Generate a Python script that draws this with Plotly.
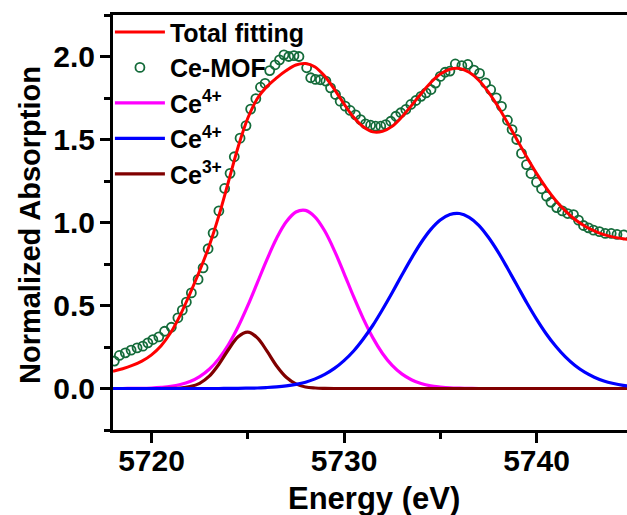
import plotly.graph_objects as go

# ---- data ----
energy_fit = [5718.0, 5718.5, 5719.0, 5719.5, 5720.0, 5720.5, 5721.0, 5721.5, 5722.0, 5722.5,
              5723.0, 5723.5, 5724.0, 5724.5, 5725.0, 5725.5, 5726.0, 5726.5, 5727.0, 5727.5,
              5728.0, 5728.5, 5729.0, 5729.5, 5730.0, 5730.5, 5731.0, 5731.5, 5732.0, 5732.5,
              5733.0, 5733.5, 5734.0, 5734.5, 5735.0, 5735.5, 5736.0, 5736.5, 5737.0, 5737.5,
              5738.0, 5738.5, 5739.0, 5739.5, 5740.0, 5740.5, 5741.0, 5741.5, 5742.0, 5742.5,
              5743.0, 5743.5, 5744.0, 5744.5, 5745.0]

total_fitting = [0.104, 0.119, 0.139, 0.165, 0.203, 0.258, 0.337, 0.444, 0.572, 0.709,
                 0.860, 1.041, 1.247, 1.455, 1.628, 1.747, 1.820, 1.871, 1.915, 1.949,
                 1.958, 1.937, 1.881, 1.802, 1.715, 1.634, 1.577, 1.546, 1.549, 1.579,
                 1.635, 1.704, 1.776, 1.842, 1.894, 1.923, 1.928, 1.905, 1.857, 1.786,
                 1.699, 1.599, 1.496, 1.393, 1.296, 1.209, 1.133, 1.070, 1.018, 0.979,
                 0.949, 0.927, 0.912, 0.902, 0.895]

ce4_a = [0.000, 0.000, 0.001, 0.001, 0.003, 0.007, 0.013, 0.024, 0.042, 0.072,
         0.116, 0.180, 0.265, 0.372, 0.499, 0.638, 0.778, 0.905, 1.004, 1.063,
         1.073, 1.033, 0.949, 0.831, 0.694, 0.553, 0.421, 0.305, 0.211, 0.139,
         0.088, 0.053, 0.030, 0.016, 0.009, 0.004, 0.002, 0.001, 0.000, 0.000,
         0.000, 0.000, 0.000, 0.000, 0.000, 0.000, 0.000, 0.000, 0.000, 0.000,
         0.000, 0.000, 0.000, 0.000, 0.000]

ce4_b = [0.000, 0.000, 0.000, 0.000, 0.000, 0.000, 0.000, 0.000, 0.000, 0.000,
         0.000, 0.000, 0.001, 0.001, 0.002, 0.003, 0.006, 0.010, 0.016, 0.025,
         0.038, 0.058, 0.085, 0.121, 0.168, 0.226, 0.298, 0.381, 0.476, 0.577,
         0.682, 0.784, 0.878, 0.957, 1.015, 1.048, 1.054, 1.031, 0.983, 0.911,
         0.823, 0.723, 0.619, 0.515, 0.418, 0.330, 0.254, 0.190, 0.138, 0.098,
         0.068, 0.045, 0.030, 0.019, 0.012]

ce3 = [0.000, 0.000, 0.000, 0.000, 0.000, 0.000, 0.001, 0.003, 0.011, 0.031,
       0.074, 0.146, 0.235, 0.312, 0.340, 0.305, 0.225, 0.136, 0.068, 0.028,
       0.009, 0.003, 0.001, 0.000, 0.000, 0.000, 0.000, 0.000, 0.000, 0.000,
       0.000, 0.000, 0.000, 0.000, 0.000, 0.000, 0.000, 0.000, 0.000, 0.000,
       0.000, 0.000, 0.000, 0.000, 0.000, 0.000, 0.000, 0.000, 0.000, 0.000,
       0.000, 0.000, 0.000, 0.000, 0.000]

energy_mof = [5718.07, 5718.33, 5718.64, 5718.94, 5719.25, 5719.55, 5719.81, 5720.07, 5720.38, 5720.68,
              5721.03, 5721.37, 5721.60, 5721.81, 5722.07, 5722.42, 5722.68, 5722.94, 5723.20, 5723.50,
              5723.80, 5724.08, 5724.30, 5724.60, 5724.91, 5725.15, 5725.42, 5725.66, 5725.90, 5726.14,
              5726.42, 5726.65, 5726.88, 5727.13, 5727.40, 5727.66, 5728.06, 5728.27, 5728.52, 5728.77,
              5729.06, 5729.30, 5729.56, 5729.80, 5730.06, 5730.32, 5730.60, 5730.86, 5731.12, 5731.38,
              5731.64, 5731.91, 5732.17, 5732.43, 5732.69, 5732.95, 5733.21, 5733.47, 5733.73, 5734.00,
              5734.26, 5734.52, 5734.75, 5735.00, 5735.25, 5735.50, 5735.78, 5736.12, 5736.43, 5736.75,
              5737.04, 5737.35, 5737.62, 5737.91, 5738.18, 5738.49, 5738.73, 5738.97, 5739.22, 5739.48,
              5739.71, 5740.00, 5740.26, 5740.52, 5740.75, 5741.05, 5741.34, 5741.62, 5741.92, 5742.18,
              5742.44, 5742.70, 5742.96, 5743.27, 5743.57, 5743.88, 5744.18, 5744.53]

ce_mof = [0.165, 0.199, 0.215, 0.231, 0.245, 0.255, 0.275, 0.295, 0.311, 0.345,
          0.369, 0.426, 0.472, 0.520, 0.576, 0.657, 0.727, 0.842, 0.936, 1.070,
          1.205, 1.296, 1.396, 1.508, 1.584, 1.683, 1.746, 1.815, 1.838, 1.915,
          1.950, 1.980, 2.010, 2.000, 2.005, 2.000, 1.932, 1.872, 1.862, 1.860,
          1.852, 1.811, 1.771, 1.731, 1.701, 1.675, 1.648, 1.620, 1.594, 1.586,
          1.580, 1.580, 1.590, 1.610, 1.640, 1.661, 1.681, 1.711, 1.735, 1.760,
          1.781, 1.801, 1.840, 1.880, 1.905, 1.912, 1.955, 1.945, 1.952, 1.918,
          1.898, 1.841, 1.800, 1.751, 1.700, 1.616, 1.560, 1.500, 1.416, 1.349,
          1.295, 1.243, 1.203, 1.158, 1.122, 1.090, 1.070, 1.054, 1.048, 1.014,
          0.982, 0.968, 0.954, 0.945, 0.934, 0.934, 0.928, 0.926]

x_ticks = [5720, 5730, 5740]
y_ticks = [0.0, 0.5, 1.0, 1.5, 2.0]
x_title = "Energy (eV)"
y_title = "Normalized Absorption"

FONT = "Liberation Sans, Arial, sans-serif"

fig = go.Figure()

fig.add_trace(go.Scatter(x=energy_fit, y=ce4_a, mode="lines", name="Ce<sup>4+</sup>",
                         line=dict(color="#ff00ff", width=3.2, shape="spline"), legendrank=3))
fig.add_trace(go.Scatter(x=energy_fit, y=ce3, mode="lines", name="Ce<sup>3+</sup>",
                         line=dict(color="#800000", width=3.2, shape="spline"), legendrank=5))
fig.add_trace(go.Scatter(x=energy_fit, y=ce4_b, mode="lines", name="Ce<sup>4+</sup>",
                         line=dict(color="#0000ff", width=3.2, shape="spline"), legendrank=4))
fig.add_trace(go.Scatter(x=energy_mof, y=ce_mof, mode="markers", name="Ce-MOF",
                         marker=dict(symbol="circle-open", size=9, color="#146b3a",
                                     line=dict(width=1.8, color="#146b3a")), legendrank=2))
fig.add_trace(go.Scatter(x=energy_fit, y=total_fitting, mode="lines", name="Total fitting",
                         line=dict(color="#ff0000", width=3, shape="spline"), legendrank=1))

fig.update_layout(
    width=627, height=515,
    margin=dict(l=113, r=0, t=15, b=85, autoexpand=False),
    paper_bgcolor="white", plot_bgcolor="white",
    font=dict(family=FONT, color="black", weight="bold"),
    hovermode=False,
    showlegend=True,
    legend=dict(x=-0.006, y=1.014, xanchor="left", yanchor="top",
                bgcolor="rgba(0,0,0,0)", borderwidth=0,
                font=dict(family=FONT, size=25, color="black", weight="bold"),
                itemwidth=50, tracegroupgap=0),
    xaxis=dict(range=[5718, 5744.7], tickvals=x_ticks, ticktext=[str(v) for v in x_ticks],
               ticks="outside", ticklen=10, tickwidth=3, tickcolor="black",
               showline=True, linewidth=3, linecolor="black", mirror=True,
               showgrid=False, zeroline=False, automargin=False,
               ticklabelstandoff=-8,
               minor=dict(dtick=5, tick0=5720, ticks="outside", ticklen=6, tickwidth=3, tickcolor="black"),
               tickfont=dict(family=FONT, size=30, color="black", weight="bold")),
    yaxis=dict(range=[-0.25, 2.25], tickvals=y_ticks, tickformat=".1f",
               ticks="outside", ticklen=10, tickwidth=3, tickcolor="black",
               showline=True, linewidth=3, linecolor="black", mirror=False,
               showgrid=False, zeroline=False, automargin=False,
               ticklabelstandoff=-1,
               minor=dict(dtick=0.25, tick0=0, ticks="outside", ticklen=6, tickwidth=3, tickcolor="black"),
               tickfont=dict(family=FONT, size=30, color="black", weight="bold")),
    annotations=[
        dict(text=x_title, xref="paper", yref="paper", x=0.507, y=0, xanchor="center",
             yanchor="middle", yshift=-68, showarrow=False,
             font=dict(family=FONT, size=31, color="black", weight="bold")),
        dict(text=y_title, xref="paper", yref="paper", x=0, y=0.494, xanchor="center",
             yanchor="middle", xshift=-83, textangle=-90, showarrow=False,
             font=dict(family=FONT, size=29, color="black", weight="bold")),
    ],
)

fig.write_html("out.html",
               config={"displayModeBar": False, "staticPlot": True},
               post_script="document.body.style.margin='0';document.body.style.overflow='hidden';")
